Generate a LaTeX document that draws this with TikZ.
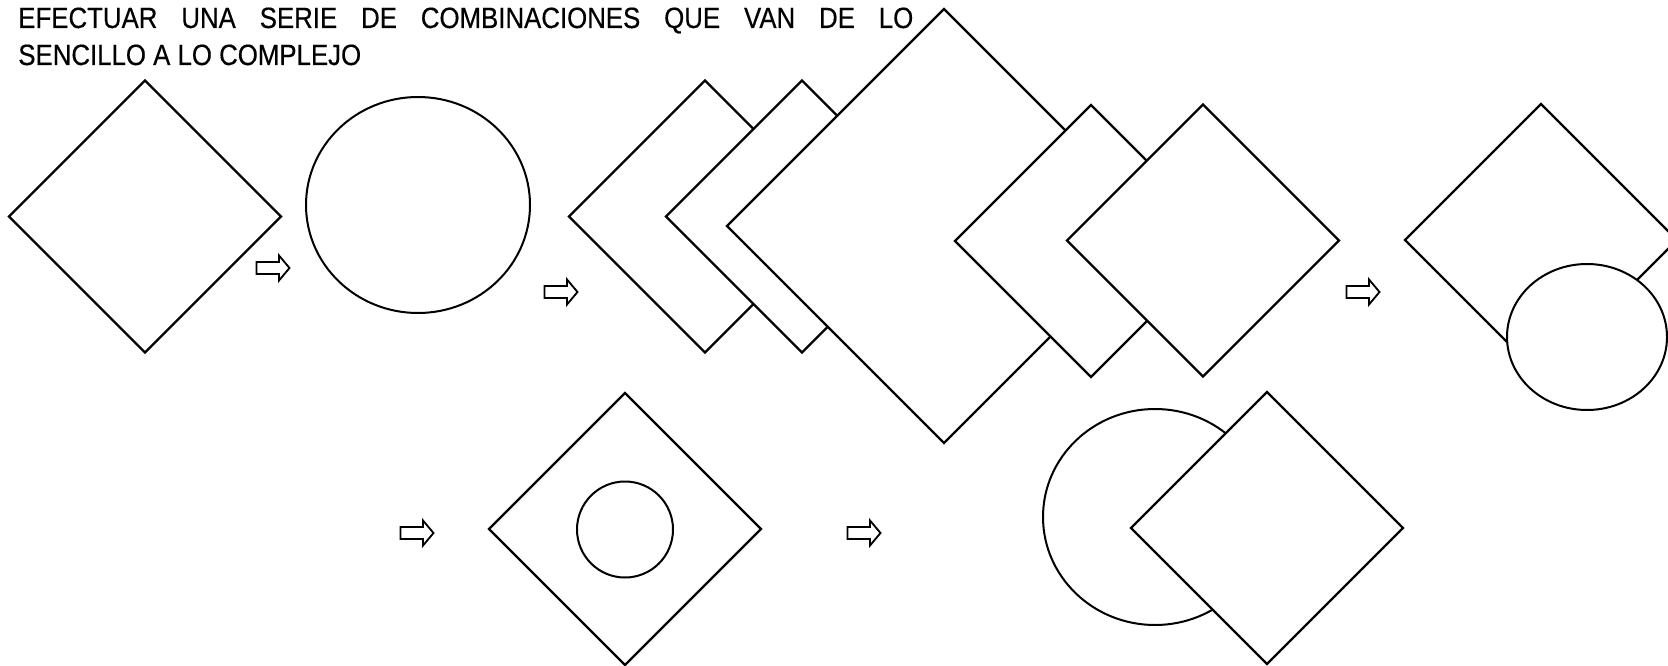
\documentclass[tikz,border=0pt]{standalone}
\usepackage{fontspec}
\newfontfamily\narrowsans[FakeStretch=0.88,FakeBold=0.4]{Liberation Sans}
\tikzset{
  shp/.style={draw=black, fill=white, line width=1.3pt, line join=miter},
  ring/.style={draw=black, fill=white, line width=1.2pt},
  blockarrow/.pic={\filldraw[draw=black, fill=white, line width=1.1pt]
     (-16.5,-6) -- (6,-6) -- (6,-12.5) -- (16.5,0) -- (6,12.5) -- (6,6) -- (-16.5,6) -- cycle;},
  txt/.style={anchor=base west, inner sep=0pt, font=\narrowsans\fontsize{17.6}{20}\selectfont}
}
\newcommand\mydia[3]{\path[shp] (#1,#2-#3) -- ++(#3,#3) -- ++(-#3,#3) -- ++(-#3,-#3) -- cycle;}
\begin{document}
\begin{tikzpicture}[x=0.6pt,y=-0.6pt]
\useasboundingbox (0,0) rectangle (1668,666);
\clip (0,0) rectangle (1668,666);
% text
\node[txt] (t1) at (18,28) {\makebox[537pt][s]{EFECTUAR UNA SERIE DE COMBINACIONES QUE VAN DE LO}};
\node[txt] (t2) at (18,65) {SENCILLO A LO COMPLEJO};
% row 1
\mydia{145}{216.5}{136}
\path[ring] (418,205) ellipse [x radius=112, y radius=108];
% stacked group
\mydia{705}{216.5}{136}
\mydia{802}{216.5}{136}
\mydia{944}{226}{217}
\mydia{1091}{241}{136}
\mydia{1203}{240.5}{136}
% right combination
\mydia{1541}{240}{136}
\path[ring] (1587,337) ellipse [x radius=80, y radius=73];
% row 2
\mydia{625}{529}{136}
\path[ring] (625,529.5) circle [radius=48];
\path[ring] (1155,517) ellipse [x radius=112, y radius=108];
\mydia{1267}{528}{136}
% arrows
\pic at (273,268) {blockarrow};
\pic at (561,292) {blockarrow};
\pic at (1363,292) {blockarrow};
\pic at (417,533) {blockarrow};
\pic at (864,533) {blockarrow};
\end{tikzpicture}
\end{document}
